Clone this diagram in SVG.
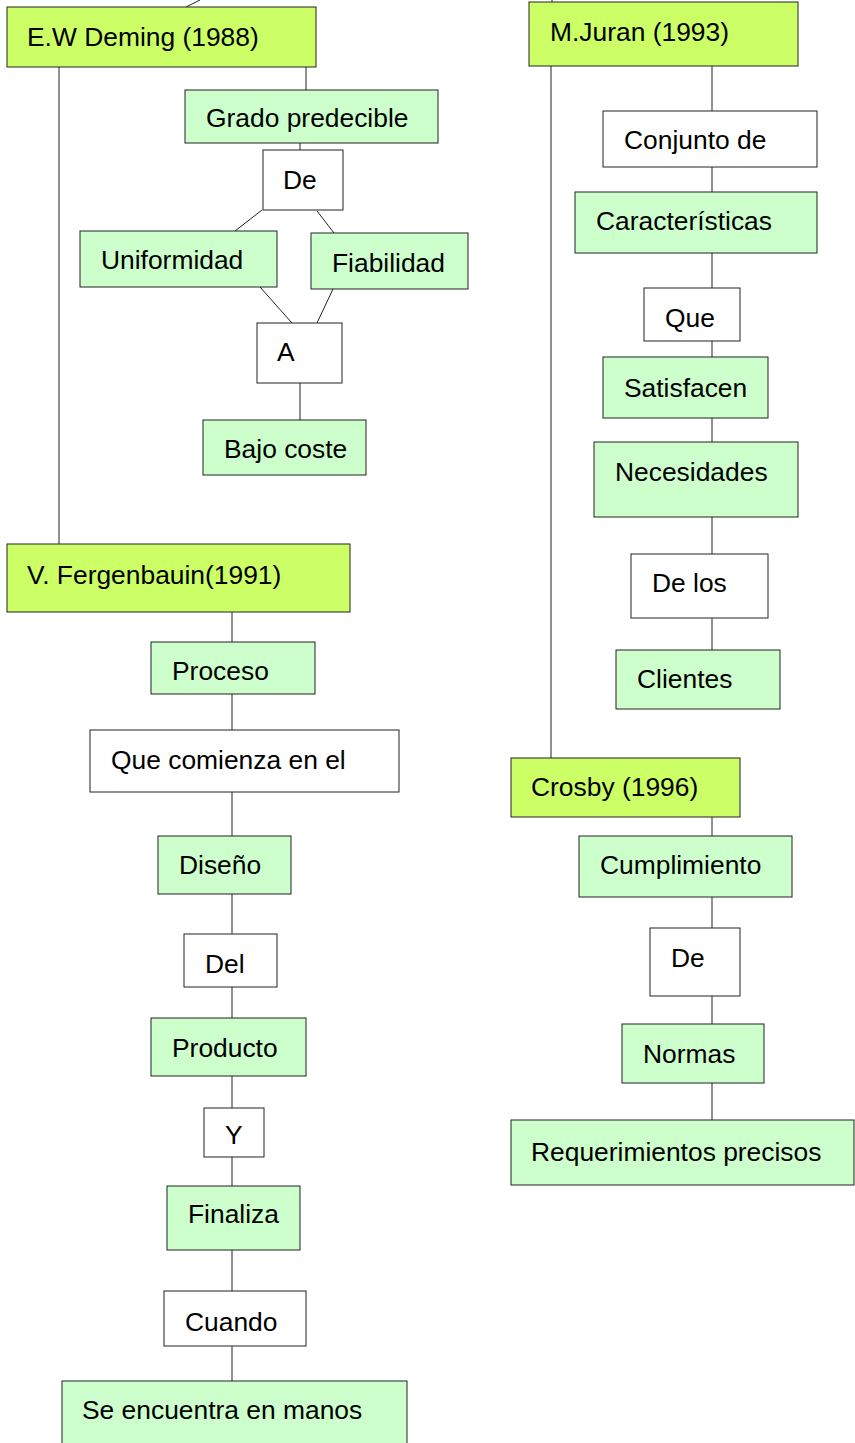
<svg xmlns="http://www.w3.org/2000/svg" width="855" height="1443" viewBox="0 0 855 1443">
<style>
rect{stroke:#222;stroke-width:1}
.y{fill:#ccff66}
.g{fill:#ccffcc}
.w{fill:#ffffff}
text{font-family:"Liberation Sans",Arial,sans-serif;font-size:26.4px;fill:#000}
.c line{stroke:#222;stroke-width:1}
</style>
<rect width="855" height="1443" fill="#fff" style="stroke:none"/>
<g class="c" id="connectors">
<line x1="186" y1="7" x2="200" y2="0"/>
<line x1="552" y1="0" x2="552" y2="2"/>
<line x1="59" y1="67" x2="59" y2="544"/>
<line x1="306" y1="67" x2="306" y2="90"/>
<line x1="300" y1="143" x2="300" y2="150"/>
<line x1="262" y1="210" x2="235" y2="231"/>
<line x1="317" y1="211" x2="334" y2="233"/>
<line x1="260" y1="287" x2="292" y2="323"/>
<line x1="333" y1="289" x2="317" y2="323"/>
<line x1="300" y1="383" x2="300" y2="420"/>
<line x1="232" y1="612" x2="232" y2="642"/>
<line x1="232" y1="694" x2="232" y2="730"/>
<line x1="232" y1="792" x2="232" y2="836"/>
<line x1="232" y1="894" x2="232" y2="934"/>
<line x1="232" y1="987" x2="232" y2="1018"/>
<line x1="232" y1="1076" x2="232" y2="1108"/>
<line x1="232" y1="1157" x2="232" y2="1186"/>
<line x1="232" y1="1250" x2="232" y2="1291"/>
<line x1="232" y1="1346" x2="232" y2="1381"/>
<line x1="551" y1="66" x2="551" y2="758"/>
<line x1="712" y1="66" x2="712" y2="111"/>
<line x1="712" y1="167" x2="712" y2="192"/>
<line x1="712" y1="253" x2="712" y2="288"/>
<line x1="712" y1="341" x2="712" y2="357"/>
<line x1="712" y1="418" x2="712" y2="442"/>
<line x1="712" y1="517" x2="712" y2="554"/>
<line x1="712" y1="618" x2="712" y2="650"/>
<line x1="712" y1="817" x2="712" y2="836"/>
<line x1="712" y1="897" x2="712" y2="928"/>
<line x1="712" y1="996" x2="712" y2="1024"/>
<line x1="712" y1="1083" x2="712" y2="1120"/>
</g>
<g id="deming"><rect class="y" x="7" y="7" width="309" height="60"/><text x="27" y="46">E.W Deming (1988)</text></g>
<g id="grado"><rect class="g" x="185" y="90" width="253" height="53"/><text x="206" y="127">Grado predecible</text></g>
<g id="de1"><rect class="w" x="263" y="150" width="80" height="60"/><text x="283" y="189">De</text></g>
<g id="uniformidad"><rect class="g" x="80" y="231" width="197" height="56"/><text x="101" y="269">Uniformidad</text></g>
<g id="fiabilidad"><rect class="g" x="311" y="233" width="157" height="56"/><text x="332" y="272">Fiabilidad</text></g>
<g id="a"><rect class="w" x="257" y="323" width="85" height="60"/><text x="277" y="361">A</text></g>
<g id="bajo"><rect class="g" x="203" y="420" width="163" height="55"/><text x="224" y="458">Bajo coste</text></g>
<g id="fergenbauin"><rect class="y" x="7" y="544" width="343" height="68"/><text x="27" y="584">V. Fergenbauin(1991)</text></g>
<g id="proceso"><rect class="g" x="151" y="642" width="164" height="52"/><text x="172" y="680">Proceso</text></g>
<g id="comienza"><rect class="w" x="90" y="730" width="309" height="62"/><text x="111" y="769">Que comienza en el</text></g>
<g id="diseno"><rect class="g" x="158" y="836" width="133" height="58"/><text x="179" y="874">Diseño</text></g>
<g id="del"><rect class="w" x="184" y="934" width="93" height="53"/><text x="205" y="973">Del</text></g>
<g id="producto"><rect class="g" x="151" y="1018" width="155" height="58"/><text x="172" y="1057">Producto</text></g>
<g id="y"><rect class="w" x="204" y="1108" width="60" height="49"/><text x="225" y="1144">Y</text></g>
<g id="finaliza"><rect class="g" x="167" y="1186" width="133" height="64"/><text x="188" y="1223">Finaliza</text></g>
<g id="cuando"><rect class="w" x="164" y="1291" width="142" height="55"/><text x="185" y="1331">Cuando</text></g>
<g id="manos"><rect class="g" x="62" y="1381" width="345" height="70"/><text x="82" y="1419">Se encuentra en manos</text></g>
<g id="juran"><rect class="y" x="529" y="2" width="269" height="64"/><text x="550" y="41">M.Juran (1993)</text></g>
<g id="conjunto"><rect class="w" x="603" y="111" width="214" height="56"/><text x="624" y="149">Conjunto de</text></g>
<g id="caracteristicas"><rect class="g" x="575" y="192" width="242" height="61"/><text x="596" y="230">Características</text></g>
<g id="que"><rect class="w" x="644" y="288" width="96" height="53"/><text x="665" y="327">Que</text></g>
<g id="satisfacen"><rect class="g" x="603" y="357" width="165" height="61"/><text x="624" y="397">Satisfacen</text></g>
<g id="necesidades"><rect class="g" x="594" y="442" width="204" height="75"/><text x="615" y="481">Necesidades</text></g>
<g id="delos"><rect class="w" x="631" y="554" width="137" height="64"/><text x="652" y="592">De los</text></g>
<g id="clientes"><rect class="g" x="616" y="650" width="164" height="59"/><text x="637" y="688">Clientes</text></g>
<g id="crosby"><rect class="y" x="511" y="758" width="229" height="59"/><text x="531" y="796">Crosby (1996)</text></g>
<g id="cumplimiento"><rect class="g" x="579" y="836" width="213" height="61"/><text x="600" y="874">Cumplimiento</text></g>
<g id="de2"><rect class="w" x="650" y="928" width="90" height="68"/><text x="671" y="967">De</text></g>
<g id="normas"><rect class="g" x="622" y="1024" width="142" height="59"/><text x="643" y="1063">Normas</text></g>
<g id="requerimientos"><rect class="g" x="511" y="1120" width="343" height="65"/><text x="531" y="1161">Requerimientos precisos</text></g>
</svg>
